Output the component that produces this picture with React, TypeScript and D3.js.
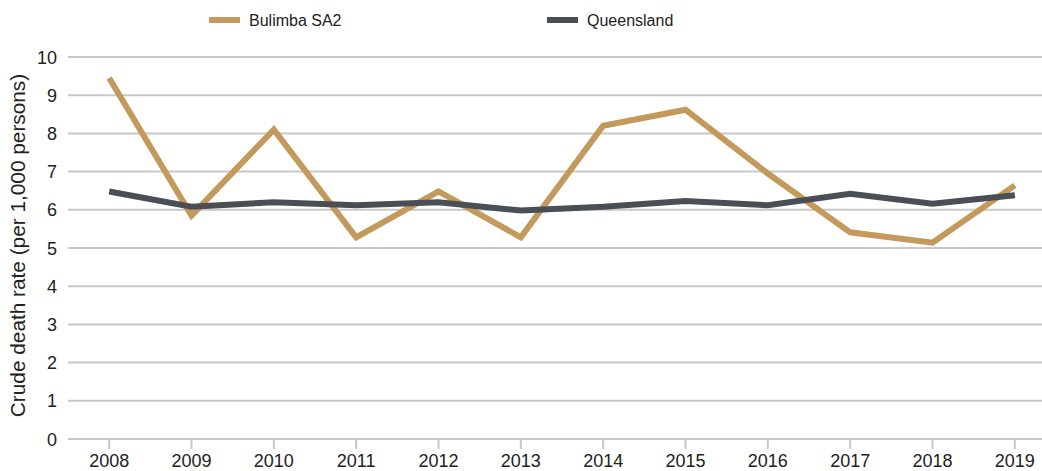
import * as d3 from "d3"

const years = ["2008", "2009", "2010", "2011", "2012", "2013", "2014", "2015", "2016", "2017", "2018", "2019"]
const bulimba = [9.45, 5.85, 8.1, 5.28, 6.48, 5.28, 8.2, 8.62, 6.95, 5.41, 5.14, 6.64]
const queensland = [6.48, 6.08, 6.2, 6.12, 6.2, 5.98, 6.08, 6.23, 6.12, 6.42, 6.16, 6.38]
const yTicks = [0, 1, 2, 3, 4, 5, 6, 7, 8, 9, 10]

const series = [
  { name: "Bulimba SA2", values: bulimba, color: "#C39A5B", legendX: 209 },
  { name: "Queensland", values: queensland, color: "#4A4F55", legendX: 547 },
]

export default function App() {
  const width = 1042
  const height = 471
  const margin = { top: 57, right: -14, bottom: 32, left: 68 }

  const x = d3.scaleBand()
    .domain(years)
    .range([margin.left, width - margin.right])

  const y = d3.scaleLinear()
    .domain([0, 10])
    .range([height - margin.bottom, margin.top])

  const line = d3.line<number>()
    .x((_, i) => (x(years[i]) || 0) + x.bandwidth() / 2)
    .y((d) => y(d))

  const font = "Liberation Sans, Arial, sans-serif"

  return (
    <svg
      width={width}
      height={height}
      style={{ position: "absolute", left: 0, top: 0, background: "#fff" }}
      fontFamily={font}
    >
      {/* gridlines */}
      {yTicks.map((t) => (
        <line key={t} x1={margin.left} x2={width} y1={y(t)} y2={y(t)} stroke="#C8C8C8" strokeWidth={2} />
      ))}
      {/* y labels */}
      {yTicks.map((t) => (
        <text key={t} x={57} y={y(t) + 6.5} textAnchor="end" fontSize={18} fill="#222">{t}</text>
      ))}
      {/* x ticks and labels */}
      {years.map((yr) => {
        const cx = (x(yr) || 0) + x.bandwidth() / 2
        return (
          <g key={yr}>
            <line x1={cx} x2={cx} y1={y(0)} y2={y(0) + 10} stroke="#C8C8C8" strokeWidth={2} />
            <text x={cx} y={467} textAnchor="middle" fontSize={18} fill="#222">{yr}</text>
          </g>
        )
      })}
      <text
        transform={`translate(25,245.5) rotate(-90)`}
        textAnchor="middle"
        fontSize={20.8}
        fill="#222"
      >
        Crude death rate (per 1,000 persons)
      </text>
      {/* lines */}
      {series.map((s) => (
        <path key={s.name} d={line(s.values) || ""} fill="none" stroke={s.color} strokeWidth={6} strokeLinejoin="miter" />
      ))}
      {/* legend */}
      {series.map((s) => (
        <g key={s.name}>
          <line x1={s.legendX} x2={s.legendX + 31} y1={20} y2={20} stroke={s.color} strokeWidth={6} />
          <text x={s.legendX + 40} y={26} fontSize={16} fill="#222">{s.name}</text>
        </g>
      ))}
    </svg>
  )
}
